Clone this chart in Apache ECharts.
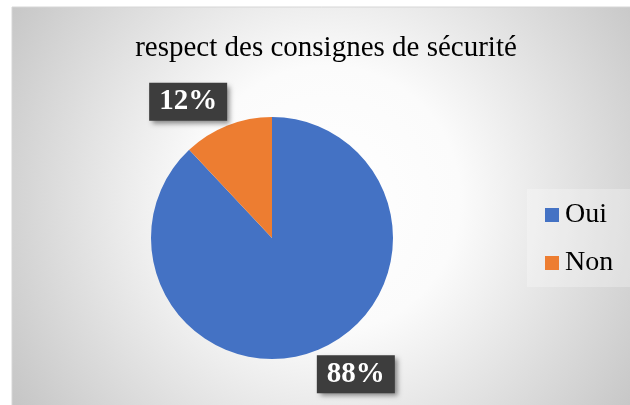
<!DOCTYPE html>
<html>
<head>
<meta charset="utf-8">
<script src="https://cdn.jsdelivr.net/npm/echarts@6/dist/echarts.min.js"></script>
<style>
html,body{margin:0;padding:0;background:#fff;}
#c{width:630px;height:405px;}
</style>
</head>
<body>
<div id="c"></div>
<script>
const title = 'respect des consignes de sécurité';
const categories = ['Oui', 'Non'];
const values = [88, 12];
const colors = ['#4472C4', '#ED7D31'];

const chart = echarts.init(document.getElementById('c'), null, {renderer: 'canvas'});
const serif = '"Liberation Serif", "Times New Roman", serif';
const center = [272, 238];
const radius = 121;
const total = values.reduce((a, b) => a + b, 0);

chart.setOption({
  animation: false,
  graphic: [{
    type: 'rect', z: -10, silent: true,
    shape: {x: 12, y: 7, width: 630, height: 400},
    style: {
      fill: new echarts.graphic.RadialGradient(0.5, 0.48, 0.95, [
        {offset: 0, color: '#ffffff'},
        {offset: 0.35, color: '#fbfbfb'},
        {offset: 1, color: '#c4c4c4'}
      ]),
      stroke: '#d6d6d6', lineWidth: 1
    }
  }],
  title: {
    text: title, left: 321, top: 29, textAlign: 'center',
    textStyle: {fontFamily: serif, fontWeight: 'normal', fontSize: 29, color: '#000'}
  },
  legend: {
    orient: 'vertical', left: 527, top: 189,
    itemWidth: 14, itemHeight: 14, itemGap: 20,
    icon: 'rect',
    backgroundColor: 'rgba(255,255,255,0.28)',
    padding: [12, 17, 10, 18],
    textStyle: {fontFamily: serif, fontSize: 28, color: '#000', padding: [0, 0, 0, 1]},
    data: categories
  },
  series: [{
    type: 'pie',
    center: center,
    radius: radius,
    startAngle: 90,
    clockwise: true,
    color: colors,
    itemStyle: {borderWidth: 0},
    label: {
      show: true, position: 'outside',
      formatter: '{d}%',
      fontFamily: serif, fontSize: 29, fontWeight: 'bold', color: '#fff',
      backgroundColor: '#3d3d3d',
      padding: [5, 10, 4, 10],
      shadowColor: 'rgba(0,0,0,0.45)', shadowBlur: 5, shadowOffsetX: 3, shadowOffsetY: 3
    },
    labelLine: {show: false},
    labelLayout: function (p) {
      let start = 0;
      for (let i = 0; i < p.dataIndex; i++) start += values[i];
      const mid = (start + values[p.dataIndex] / 2) / total * 360;
      const ang = (90 - mid + 10) * Math.PI / 180;
      const R = radius + 39;
      return {
        x: center[0] + R * Math.cos(ang),
        y: center[1] - R * Math.sin(ang),
        align: 'center', verticalAlign: 'middle'
      };
    },
    data: categories.map((c, i) => ({name: c, value: values[i]}))
  }]
});
</script>
</body>
</html>
